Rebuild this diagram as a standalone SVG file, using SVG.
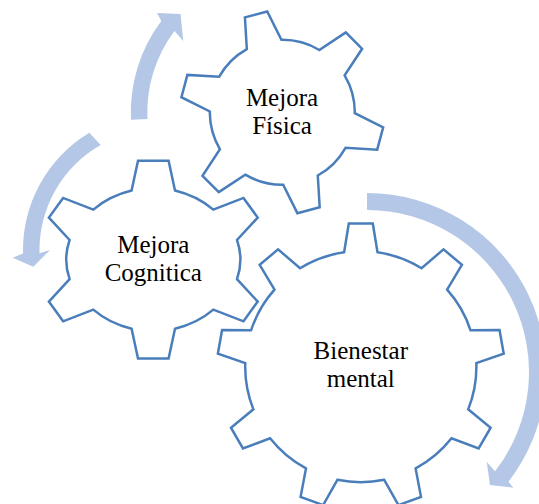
<svg xmlns="http://www.w3.org/2000/svg" width="539" height="504" viewBox="0 0 539 504">
<style>
.gear{fill:#ffffff;stroke:#4A7EBB;stroke-width:2.5;stroke-linejoin:miter}
.arrow{fill:#B4C7E7;stroke:none}
.lbl{font-family:"Liberation Serif","Times New Roman",serif;font-size:25px;fill:#000000;text-anchor:middle}
</style>
<rect width="539" height="504" fill="#ffffff"/>
<g id="gear-fisica">
<path class="gear" d="M246.82,49.07 L244.92,17.40 L267.22,11.42 L281.41,39.81 A72.5,72.5 0 0 1 319.31,49.96 L345.80,32.47 L362.13,48.80 L344.64,75.29 A72.5,72.5 0 0 1 354.79,113.19 L383.18,127.38 L377.20,149.68 L345.53,147.78 A72.5,72.5 0 0 1 317.78,175.53 L319.68,207.20 L297.38,213.18 L283.19,184.79 A72.5,72.5 0 0 1 245.29,174.64 L218.80,192.13 L202.47,175.80 L219.96,149.31 A72.5,72.5 0 0 1 209.81,111.41 L181.42,97.22 L187.40,74.92 L219.07,76.82 A72.5,72.5 0 0 1 246.82,49.07 Z"/>
<text class="lbl" x="282" y="106">Mejora</text>
<text class="lbl" x="282" y="134">Física</text>
</g>
<g id="gear-cognitica">
<path class="gear" d="M131.6,190.5 L138.0,160.8 L168.6,160.8 L175.0,190.5 A87,71.4 0 0 1 213.3,209.6 L243.5,197.9 L257.7,217.6 L237.0,240.0 A87,71.4 0 0 1 237.0,279.2 L257.7,301.6 L243.5,321.3 L213.3,309.6 A87,71.4 0 0 1 175.0,328.7 L168.6,358.4 L138.0,358.4 L131.6,328.7 A87,71.4 0 0 1 93.3,309.6 L63.1,321.3 L48.9,301.6 L69.6,279.2 A87,71.4 0 0 1 69.6,240.0 L48.9,217.6 L63.1,197.9 L93.3,209.6 A87,71.4 0 0 1 131.6,190.5 Z"/>
<text class="lbl" x="153.3" y="253.3">Mejora</text>
<text class="lbl" x="153.3" y="281.3">Cognitica</text>
</g>
<g id="gear-bienestar">
<path class="gear" d="M344.11,252.21 L348.79,223.60 L372.81,223.60 L377.49,252.21 A115.6,115.6 0 0 1 421.55,268.25 L443.51,249.35 L461.91,264.77 L447.11,289.70 A115.6,115.6 0 0 1 470.55,330.30 L499.54,329.95 L503.71,353.60 L476.35,363.17 A115.6,115.6 0 0 1 468.20,409.34 L490.64,427.70 L478.63,448.50 L451.52,438.25 A115.6,115.6 0 0 1 415.61,468.39 L421.00,496.87 L398.43,505.08 L384.24,479.80 A115.6,115.6 0 0 1 337.36,479.80 L323.17,505.08 L300.60,496.87 L305.99,468.39 A115.6,115.6 0 0 1 270.08,438.25 L242.97,448.50 L230.96,427.70 L253.40,409.34 A115.6,115.6 0 0 1 245.25,363.17 L217.89,353.60 L222.06,329.95 L251.05,330.30 A115.6,115.6 0 0 1 274.49,289.70 L259.69,264.77 L278.09,249.35 L300.05,268.25 A115.6,115.6 0 0 1 344.11,252.21 Z"/>
<text class="lbl" x="360.8" y="358.8">Bienestar</text>
<text class="lbl" x="360.8" y="386.8">mental</text>
</g>
<g id="connectors">
<path id="arrow-top" class="arrow" d="M130.98,119.70 A151.5,151.5 0 0 1 161.31,21.12 L157,13 L180.5,14 L183.3,41 L174.48,31.05 A135,135 0 0 0 147.46,118.89 Z"/>
<path id="arrow-left" class="arrow" d="M89.3,132.7 A137,137 0 0 0 23.05,253.59 L12.7,257.7 L33.3,266.7 L50,250 L39.54,253.15 A120.5,120.5 0 0 1 100.66,145.12 Z"/>
<path id="arrow-right" class="arrow" d="M367,193 A179,179 0 0 1 508.44,481.71 L513.3,487.7 L490,485 L486.7,461.7 L495.01,471.29 A162,162 0 0 0 367,210 Z"/>
</g>
</svg>
